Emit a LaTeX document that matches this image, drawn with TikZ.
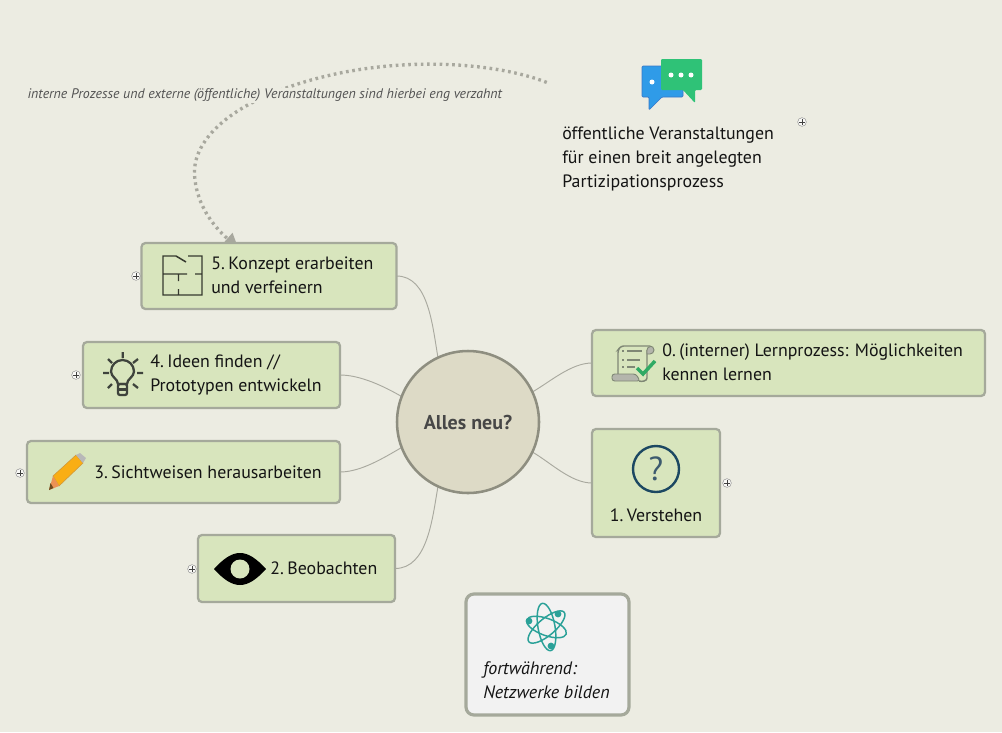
\documentclass[tikz,border=0pt]{standalone}
\usepackage{fontspec}
\setmainfont{PT Sans}
\usetikzlibrary{arrows.meta}
\definecolor{bgc}{HTML}{ECECE2}
\definecolor{boxf}{HTML}{D8E5BD}
\definecolor{boxd}{HTML}{A5A99B}
\definecolor{circf}{HTML}{DDDAC6}
\definecolor{circd}{HTML}{8E8E80}
\definecolor{netf}{HTML}{F2F2F2}
\definecolor{linec}{HTML}{A9A99F}
\definecolor{dotc}{HTML}{A8A89E}
\definecolor{txt}{HTML}{141414}
\definecolor{iconc}{HTML}{3E433C}
\definecolor{teal}{HTML}{2AA198}
\definecolor{chatb}{HTML}{2F9BE8}
\definecolor{chatbd}{HTML}{3A78C8}
\definecolor{chatg}{HTML}{2FC277}
\definecolor{pen}{HTML}{F9AE14}
\definecolor{pend}{HTML}{CD963C}
\definecolor{wood}{HTML}{EB9155}
\definecolor{lead}{HTML}{6E4B1E}
\definecolor{check}{HTML}{2FAA64}
\definecolor{qring}{HTML}{1C4862}
\definecolor{qmark}{HTML}{3C5A6E}
\definecolor{scrollc}{HTML}{7F8775}
\definecolor{scrollg}{HTML}{B4B5AC}
\pgfdeclarelayer{bg}
\pgfsetlayers{bg,main}
\newcommand{\nsp}{\kern-0.9pt\ }
\tikzset{
  x=0.75pt,y=-0.75pt,
  wh/.style 2 args={minimum width=#1*0.75pt,minimum height=#2*0.75pt},
  topicbox/.style={draw=boxd,fill=boxf,line width=1.7pt,rounded corners=3pt,inner sep=0pt,outer sep=0pt},
  label/.style={anchor=west,align=left,inner sep=0pt,text=txt,font=\fontsize{13.4pt}{18pt}\selectfont},
  branch/.style={draw=linec,line width=0.7pt},
  marker/.style={circle,draw=black!45,fill=white!70!bgc,line width=0.35pt,minimum size=6.5pt,inner sep=0pt,
    path picture={\draw[black!75,line width=0.4pt] (path picture bounding box.center) ++(-2pt,0pt) -- ++(4pt,0pt) (path picture bounding box.center) ++(0pt,-2pt) -- ++(0pt,4pt);}},
}
\begin{document}
\begin{tikzpicture}
\begin{pgfonlayer}{bg}
\fill[bgc] (0,0) rectangle (1002,732);
\end{pgfonlayer}
\useasboundingbox (0,0) rectangle (1002,732);

% centre
\node[circle,draw=circd,fill=circf,line width=1.9pt,minimum size=142*0.75pt,inner sep=0pt,outer sep=0pt,
  font=\bfseries\fontsize{15pt}{16pt}\selectfont,text=black!72] (c) at (468,422) {Alles neu?};

% topic boxes
\node[topicbox,wh={255}{66}] (b5) at (269,276) {};
\node[topicbox,wh={257}{66}] (b4) at (211.5,375) {};
\node[topicbox,wh={313}{62}] (b3) at (183.5,472) {};
\node[topicbox,wh={197}{67}] (b2) at (296.5,568.5) {};
\node[topicbox,wh={393}{66}] (b0) at (788.5,363) {};
\node[topicbox,wh={128}{108}] (b1) at (656,483) {};
\node[draw=boxd,fill=netf,line width=2.4pt,rounded corners=6pt,wh={163}{121},inner sep=0pt] (net) at (547.5,654.5) {};
\node[inner sep=0pt,wh={243}{145}] (t9) at (668.5,122) {};

\begin{pgfonlayer}{bg}
\draw[branch] (b5.east) to[out=0,in=100,looseness=0.9] (c.115);
\draw[branch] (b4.east) to[out=0,in=150,looseness=0.8] (c.159);
\draw[branch] (b3.east) to[out=0,in=210,looseness=0.8] (c.201);
\draw[branch] (b2.east) to[out=0,in=260,looseness=0.9] (c.245);
\draw[branch] (b0.west) to[out=180,in=30,looseness=0.8] (c.25);
\draw[branch] (b1.west) to[out=180,in=-30,looseness=0.8] (c.-25);
\draw[dotc,line width=2.5pt,dash pattern=on 2pt off 2.7pt,shorten >=-6pt,-{Triangle[length=11pt,width=11pt]}]
  (t9.162) .. controls (490,60) and (370,52) .. (268,95)
  .. controls (215,118) and (190,150) .. (195,180)
  .. controls (198,205) and (212,225) .. (b5.138);
\end{pgfonlayer}

% annotation
\node[anchor=west,inner sep=1pt,fill=bgc,text=black!68,font=\itshape\fontsize{10.4pt}{12pt}\selectfont] (note) at (26,95.5) {interne Prozesse und externe (öffentliche) Veranstaltungen sind hierbei eng verzahnt};

% labels
\node[label] (l5) at (211,275) {5.\nsp Konzept erarbeiten\\und verfeinern};
\node[label] (l4) at (150,375) {4.\nsp Ideen finden //\\Prototypen entwickeln};
\node[label] (l3) at (94,472) {3.\nsp Sichtweisen herausarbeiten};
\node[label] (l2) at (270,568) {2.\nsp Beobachten};
\node[label] (l0) at (662,362.5) {0.\nsp (interner) Lernprozess: Möglichkeiten\\kennen lernen};
\node[label,anchor=center] (l1) at (656,515) {1.\nsp Verstehen};
\node[label,font=\itshape\fontsize{13.5pt}{18pt}\selectfont] (lnet) at (483,680) {fortwährend:\\Netzwerke bilden};
\node[label] (l9) at (562,159) {öffentliche Veranstaltungen\\für einen breit angelegten\\Partizipationsprozess};

% collapse markers
\node[marker] (m5) at (136,276) {};
\node[marker] (m4) at (76,375) {};
\node[marker] (m3) at (20,473) {};
\node[marker] (m2) at (192,569) {};
\node[marker] (m1) at (727,483) {};
\node[marker] (m9) at (802,122) {};

% chat icon
\filldraw[fill=chatb,draw=chatbd,line width=0.5pt,rounded corners=0.8pt]
  (642,66) -- (683,66) -- (683,97) -- (662,97) -- (649,110) -- (649,97) -- (642,97) -- cycle;
\fill[white] (652,82) circle (2.5);
\fill[chatg,rounded corners=0.8pt]
  (661,59) -- (702,59) -- (702,90) -- (695,90) -- (695,103) -- (683,90) -- (661,90) -- cycle;
\foreach \px in {671,681,691} \fill[white] (\px,75) circle (2.5);

% floor plan icon
\draw[black!75!boxf,line width=1.1pt]
  (176,256) -- (163,256) -- (163,295) -- (202,295) -- (202,256) -- (188,256)
  (176,256) -- (186,262)
  (163,274) -- (187,274) (195,274) -- (202,274)
  (178.5,274) -- (178.5,281) (178.5,289) -- (178.5,295);

% bulb icon
\begin{scope}[iconc,line width=1.7pt]
\draw (118,384) .. controls (118,379) and (111,377) .. (111,371.5) arc[start angle=180,end angle=360,radius=11.5] .. controls (134,377) and (127,379) .. (127,384) -- cycle;
\draw[rounded corners=1.5pt] (118,384) rectangle (127,395);
\draw (118,389.5) -- (127,389.5);
\draw (122.7,352) -- (122.7,358) (103,373) -- (109,373) (137,373) -- (143,373)
  (108,359) -- (112,363) (138,359) -- (133,363) (108,388) -- (112,384) (138,388) -- (133,384);
\end{scope}

% pencil icon
\filldraw[fill=pen,draw=pend,line width=0.4pt] (53,476) -- (76,455) -- (83,463) -- (59,486) -- cycle;
\fill[black!28] (76,455) -- (80,453) -- (86,458) -- (83,463) -- cycle;
\fill[wood] (53,476) -- (59,486) -- (49,490) -- cycle;
\fill[lead] (50.5,483) -- (53.5,488) -- (49,490) -- cycle;

% eye icon
\fill[black] (214,569) .. controls (224,558) and (232,553) .. (240,553) .. controls (248,553) and (256,558) .. (266,569)
  .. controls (256,580) and (248,585) .. (240,585) .. controls (232,585) and (224,580) .. (214,569) -- cycle;
\fill[boxf] (240,569) circle (9.5);

% scroll icon
\draw[scrollc,line width=1.1pt,rounded corners=2pt] (650,346) -- (621,346) -- (618,350) -- (618,374);
\draw[scrollc,line width=1.1pt] (647,350) -- (647,378) .. controls (647,381) and (642,382) .. (639,381);
\filldraw[draw=scrollc,fill=scrollg,line width=0.7pt] (650,346) arc[start angle=-90,end angle=90,radius=4] -- (647,354) -- (647,350) arc[start angle=180,end angle=270,radius=3.5];
\filldraw[draw=scrollc,fill=scrollg,line width=0.7pt,rounded corners=2pt] (612,374) -- (636,374) -- (640,381) -- (612,381) -- cycle;
\draw[scrollc,line width=1pt] (627,351) -- (642,351) (627,360) -- (640,360) (627,367) -- (635,367)
  (622,351) -- (624,351) (622,360) -- (624,360) (622,367) -- (624,367);
\draw[check,line width=2.6pt] (637,368) -- (643,374) -- (655,361);

% question icon
\draw[qring,line width=1.8pt] (656,469) circle (23);
\node[inner sep=0pt,text=qmark,font=\fontsize{25pt}{25pt}\selectfont] (q) at (656,469) {?};

% atom icon
\begin{scope}[teal,line width=1.1pt]
\draw (546.5,627) ellipse [x radius=24,y radius=8.5,rotate=-80];
\draw (546.5,627) ellipse [x radius=21,y radius=8.5,rotate=-20];
\draw (546.5,627) ellipse [x radius=23,y radius=8.5,rotate=40];
\fill (529,621) circle (3.4) (558,614) circle (3.4) (551,646) circle (3.4);
\end{scope}
\end{tikzpicture}
\end{document}
